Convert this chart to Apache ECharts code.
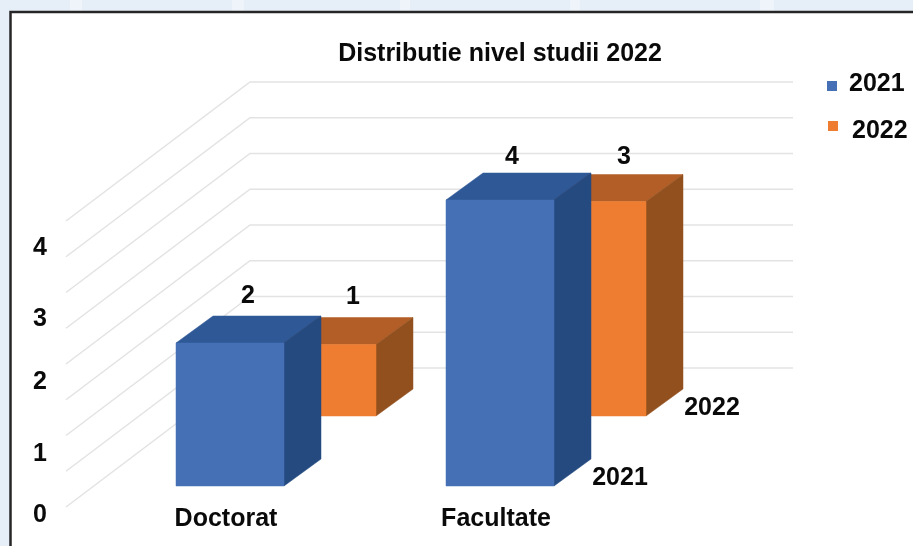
<!DOCTYPE html>
<html><head><meta charset="utf-8">
<style>html,body{margin:0;padding:0;background:#e6eff8}#c{width:913px;height:546px}</style>
<script src="https://cdn.jsdelivr.net/npm/echarts@6/dist/echarts.min.js"></script>
</head><body><div id="c"></div>
<script>
const categories = ['Doctorat', 'Facultate'];
const values2021 = [2, 4];
const values2022 = [1, 3];
const valueTicks = [0, 1, 2, 3, 4];
const wallLevels = [0, 0.5, 1, 1.5, 2, 2.5, 3, 3.5, 4];
const seriesNames = ['2021', '2022'];

const FONT = '"Liberation Sans", Arial, sans-serif';
const INK = '#0a0a0a';
const WALL = [184, -139], WALL_W = 543;
const BAR_DEPTH = [37, -27], BAR_W = 108;
const tickNudge = [8, 19, 18.5, 27, 27];
const styles = {
  2021: { plane: [29, -21], front: '#4570b6', top: '#2f5897', side: '#244a80',
          labelNudge: [[18, -47], [12, -43]], tag: [29, 19] },
  2022: { plane: [121, -91], front: '#ee7d31', top: '#b25e26', side: '#93501f',
          labelNudge: [[31, -47], [32, -44]], tag: [29, 19] }
};
const text = (s, x, y, size) => ({ type: 'text', style: { text: String(s), x, y, fill: INK,
  font: `bold ${size || 25}px ${FONT}`, align: 'center', verticalAlign: 'middle' } });

function barSeries(name, values) {
  const st = styles[name];
  return {
    type: 'custom', name, z: name === '2021' ? 4 : 3, color: st.front,
    data: values.map((v, i) => [i, v]),
    renderItem(params, api) {
      const i = api.value(0), v = api.value(1);
      const b = api.coord([i, 0]), t = api.coord([i, v]);
      const xl = b[0] + st.plane[0] - BAR_W / 2, xr = xl + BAR_W;
      const yb = b[1] + st.plane[1], yt = t[1] + st.plane[1];
      const dx = BAR_DEPTH[0], dy = BAR_DEPTH[1];
      const poly = (pts, fill) => ({ type: 'polygon', shape: { points: pts },
        style: { fill, stroke: fill, lineWidth: 0.5 } });
      const kids = [
        poly([[xl, yt], [xr, yt], [xr + dx, yt + dy], [xl + dx, yt + dy]], st.top),
        poly([[xr, yb], [xr, yt], [xr + dx, yt + dy], [xr + dx, yb + dy]], st.side),
        poly([[xl, yb], [xr, yb], [xr, yt], [xl, yt]], st.front),
        text(v, (xl + xr) / 2 + st.labelNudge[i][0], yt + st.labelNudge[i][1])
      ];
      if (i === categories.length - 1) {
        kids.push(text(name, xr + dx + st.tag[0], yb + dy + st.tag[1]));
      }
      return { type: 'group', children: kids };
    }
  };
}

const rich = {};
valueTicks.forEach((v, k) => {
  rich['t' + v] = { fontFamily: FONT, fontWeight: 'bold', fontSize: 25, color: INK,
    padding: [tickNudge[k] * 2, 0, 0, 0] };
});

const legendItem = (name, left, top, padding) => ({
  data: [{ name, icon: 'rect' }],
  left, top, itemWidth: 10, itemHeight: 10, itemGap: 0, selectedMode: false,
  formatter: n => `{a|${n}}`,
  textStyle: { rich: { a: { fontFamily: FONT, fontWeight: 'bold', fontSize: 25, color: INK, padding } } }
});

const streaks = [[70, 12], [232, 12], [400, 10], [570, 10], [760, 14]].map(([x, w]) => ({
  type: 'rect', z: -20, silent: true, shape: { x, y: 0, width: w, height: 11 },
  style: { fill: '#eef4fa' } }));

const chart = echarts.init(document.getElementById('c'), null, { renderer: 'canvas' });
chart.setOption({
  animation: false,
  backgroundColor: '#e6eff8',
  title: { text: 'Distributie nivel studii 2022', left: 495, top: 37, textAlign: 'center',
    textStyle: { fontFamily: FONT, fontWeight: 'bold', fontSize: 25, color: INK } },
  legend: [legendItem('2021', 822, 67, [0, 0, 3, 7]), legendItem('2022', 823, 114, [11, 0, 0, 9])],
  graphic: [...streaks, { type: 'rect', z: -10, silent: true,
    shape: { x: 10.5, y: 12, width: 930, height: 560 },
    style: { fill: '#fff', stroke: '#262626', lineWidth: 2.5 } }],
  grid: { left: 66, top: 221, width: 540, height: 286 },
  xAxis: { type: 'category', data: categories,
    axisLine: { show: false }, axisTick: { show: false }, splitLine: { show: false },
    axisLabel: { margin: 0, padding: [0, 0, 0, 50], fontFamily: FONT, fontWeight: 'bold', fontSize: 25, color: INK } },
  yAxis: { type: 'value', min: 0, max: 4, interval: 1,
    axisLine: { show: false }, axisTick: { show: false }, splitLine: { show: false },
    axisLabel: { margin: 19, formatter: v => `{t${v}|${v}}`, rich } },
  series: [
    { type: 'custom', name: 'walls', z: 1, silent: true,
      data: wallLevels.map(v => [0, v]),
      renderItem(params, api) {
        const x0 = params.coordSys.x;
        const y = api.coord([0, api.value(1)])[1];
        const kx = x0 + WALL[0], ky = y + WALL[1];
        return { type: 'polyline', shape: { points: [[x0, y], [kx, ky], [kx + WALL_W, ky]] },
          style: { fill: 'none', stroke: '#e3e3e3', lineWidth: 1.5 } };
      } },
    barSeries(seriesNames[1], values2022),
    barSeries(seriesNames[0], values2021)
  ]
});
</script></body></html>
